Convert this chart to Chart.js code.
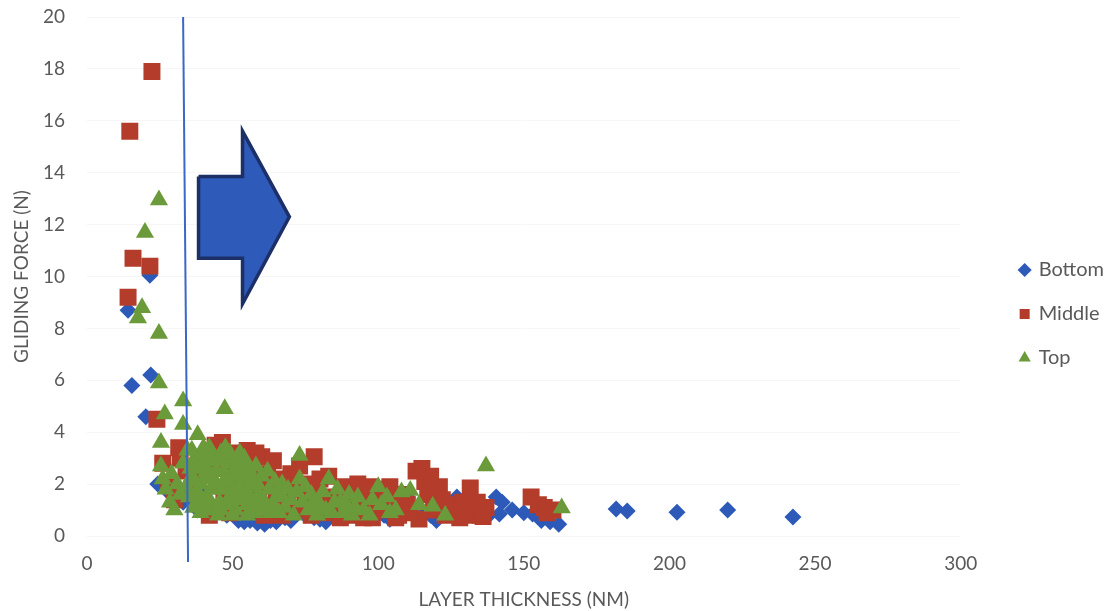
<!DOCTYPE html>
<html>
<head>
<meta charset="utf-8">
<script src="https://cdn.jsdelivr.net/npm/chart.js@4.4.1/dist/chart.umd.min.js"></script>
<style>
  html, body { margin: 0; padding: 0; background: #fff; }
  #wrap { width: 1114px; height: 611px; position: relative; }
</style>
</head>
<body>
<div id="wrap"><canvas id="chart"></canvas></div>
<script>
var seriesNames = ['Bottom', 'Middle', 'Top'];

var bottom = [
  [14.1, 8.7], [21.6, 10.05], [15.4, 5.8], [21.9, 6.2], [20.2, 4.6], [24.3, 2.0], [27.4, 1.75], [30, 1.5], [33, 1.3],
  [36, 1.4], [38, 1.0], [40, 1.6], [42, 1.1], [44, 0.9], [46, 1.3], [48, 0.8], [50, 1.2], [52, 0.6], [54, 0.55],
  [56, 0.6], [58.5, 0.5], [61, 0.45], [63, 0.6], [65, 0.55], [68, 0.7], [70, 0.6], [72, 0.9], [75, 0.8], [78, 0.7],
  [80, 0.65], [82, 0.55], [84, 0.9], [86, 1.1], [88, 0.7], [90, 0.8], [92, 1.2], [94.6, 2.0], [96, 0.9], [98, 0.75],
  [100, 1.0], [102, 0.8], [104, 0.65], [106, 1.2], [108, 0.7], [110, 1.5], [112, 0.9], [115, 0.75], [118, 0.8],
  [120, 0.6], [124, 1.0], [127, 1.5], [130, 1.2], [133, 0.9], [136, 1.1], [138, 0.8], [140.5, 1.5], [142.6, 1.3],
  [141.6, 0.85], [146, 1.0], [150, 0.9], [153, 0.85], [156, 0.6], [159, 0.55], [162, 0.45],
  [181.7, 1.04], [185.5, 0.96], [202.6, 0.92], [220, 1.0], [242.4, 0.73]
];

var middle = [
  [14.1, 9.2], [14.7, 15.6], [15.8, 10.7], [21.6, 10.4], [22.3, 17.9], [24, 4.5], [26, 2.8], [28, 2.0], [30, 1.4],
  [31.5, 3.4], [32, 3.0], [34, 2.5], [36, 1.8], [38, 2.2], [40, 1.3], [42, 0.8], [44, 3.5], [46.5, 3.6], [47, 1.6],
  [49, 0.9], [51, 2.0], [53.5, 2.6], [55, 3.3], [57, 1.2], [60, 3.05], [62, 2.4], [63, 0.9], [65, 1.6], [68, 1.2],
  [70, 2.4], [72, 1.8], [74, 1.0], [76, 2.0], [78, 3.05], [80, 2.2], [82, 1.5], [85, 1.0], [88, 1.9], [90, 1.3],
  [92, 0.8], [94, 1.6], [97, 1.9], [99, 1.2], [101, 1.8], [103, 1.0], [105, 1.4], [107, 0.8], [110, 1.2], [113, 2.5],
  [115, 2.6], [116, 2.1], [117, 1.6], [119, 1.0], [114, 0.65], [121, 1.9], [122, 1.4], [125, 0.9], [128, 0.7],
  [131.6, 1.85], [132, 1.0], [135, 0.8], [137, 1.1], [152.5, 1.5], [157, 1.1], [160, 1.0],
  [43, 1.0], [45, 2.8], [48, 2.6], [50, 3.2], [52, 1.1], [56, 2.6], [58, 3.2], [59, 1.8], [61, 0.8], [64, 2.9],
  [66, 2.2], [67, 0.8], [69, 1.5], [71, 1.0], [73, 2.7], [75, 1.4], [77, 0.8], [79, 1.8], [81, 0.9], [83, 2.3],
  [86, 1.4], [87, 0.7], [93, 2.0], [95, 0.7], [96, 1.4], [98, 0.7], [100, 1.5], [104, 1.9], [106, 0.7], [109, 1.6],
  [111, 0.9], [118, 2.3], [120, 1.3], [123, 0.8], [126, 1.2], [129, 1.3], [130, 0.8], [134, 1.3], [136, 0.75],
  [155, 1.2], [158, 0.9]
];

var top3 = [
  [17.5, 8.4], [18.9, 8.8], [19.9, 11.7], [24.7, 12.95], [24.7, 7.8], [24.7, 5.9], [26.7, 4.7], [25.4, 3.6],
  [25.4, 2.7], [26, 2.2], [27, 1.8], [28.5, 1.3], [29, 2.4], [31, 2.0], [33, 5.2], [33, 4.3], [33, 2.8], [34, 1.9],
  [35, 1.5], [36, 2.3], [37, 3.0], [38, 3.9], [38.5, 1.2], [39, 2.0], [40, 2.8], [41, 1.5], [42, 3.4], [43, 2.3],
  [44, 1.0], [45, 1.8], [46, 3.2], [47.3, 4.9], [47, 2.5], [48, 1.3], [49, 2.0], [50, 2.8], [51, 1.0], [52.5, 3.2],
  [53, 1.7], [54, 2.4], [55, 1.2], [56, 1.9], [58, 1.0], [59, 1.6], [61, 1.3], [62, 2.5], [63, 0.9], [65, 1.5],
  [67, 2.0], [68, 1.1], [70, 1.4], [71, 0.8], [73, 3.1], [73, 2.2], [74, 1.3], [76, 1.0], [77, 1.6], [79, 0.8],
  [80, 1.2], [83, 2.2], [84, 0.9], [86, 1.8], [87, 1.3], [89, 1.2], [91, 0.8], [93, 1.5], [95, 1.0], [97, 0.8],
  [100, 1.9], [101, 1.2], [104, 0.9], [108, 1.7], [111, 1.75], [114, 1.2], [118.7, 1.15], [123, 0.8],
  [137, 2.7], [163, 1.08],
  [30, 1.0], [32, 1.6], [34.5, 3.3], [35.5, 2.6], [36.5, 1.1], [37.5, 1.7], [39.5, 3.2], [40.5, 2.2], [41.5, 1.0],
  [42.5, 1.8], [43.5, 2.9], [44.5, 2.5], [45.5, 1.3], [46.5, 2.0], [47.5, 3.4], [48.5, 2.9], [49.5, 1.6], [50.5, 2.3],
  [51.5, 3.0], [52, 1.4], [53.5, 2.8], [54.5, 1.9], [55.5, 2.6], [56.5, 1.4], [57, 2.2], [57.5, 0.9], [58.5, 2.0],
  [60, 2.3], [60.5, 1.0], [62.5, 1.8], [64, 1.2], [64.5, 2.1], [66, 0.9], [66.5, 1.6], [69, 1.8], [72, 1.7],
  [75, 1.9], [78, 1.3], [81, 1.7], [82, 1.0], [85, 1.3], [88, 0.9], [90, 1.6], [92, 1.1], [98, 1.4], [103, 1.5],
  [106, 1.0],
  [38, 2.6], [39, 1.5], [40, 3.4], [41, 2.5], [42, 1.4], [43, 3.1], [44, 2.0], [45, 3.0], [46, 1.0], [47, 1.8],
  [48, 2.2], [49, 3.2], [50, 1.2], [51, 2.6], [52, 1.9], [53, 2.3], [54, 3.0], [55, 1.6], [56, 2.3], [57, 1.2],
  [58, 2.7], [59, 1.3], [37, 2.1], [36, 3.3], [39, 0.9], [45, 0.8], [50, 0.8], [55, 0.8]
];

// marker line at ~34 nm and the arrow shape, in data units
var cutoffLine = [[33, 20], [34.7, -1]];
var arrowShape = [[38.3, 13.85], [53.4, 13.85], [53.4, 15.6], [69.5, 12.3], [53.4, 8.95], [53.4, 10.7], [38.3, 10.7], [38.3, 13.85]];

function toPoints(arr) {
  return arr.map(function (p) { return { x: p[0], y: p[1] }; });
}

var gray = '#595959';
var fontFamily = 'Lato, "Open Sans", sans-serif';

var chart = new Chart(document.getElementById('chart').getContext('2d'), {
  type: 'scatter',
  data: {
    datasets: [{
      label: seriesNames[0],
      data: toPoints(bottom),
      pointStyle: 'rectRot',
      pointRadius: 8.5,
      pointHoverRadius: 8.5,
      backgroundColor: '#2D5AB8',
      borderColor: '#2D5AB8',
      borderWidth: 0,
      order: 3
    }, {
      label: seriesNames[1],
      data: toPoints(middle),
      pointStyle: 'rect',
      pointRadius: 12,
      pointHoverRadius: 12,
      backgroundColor: '#B33C2B',
      borderColor: '#B33C2B',
      borderWidth: 0,
      order: 2
    }, {
      label: seriesNames[2],
      data: toPoints(top3),
      pointStyle: 'triangle',
      pointRadius: 10.5,
      pointHoverRadius: 10.5,
      backgroundColor: '#6A9A3A',
      borderColor: '#6A9A3A',
      borderWidth: 0,
      order: 1
    }, {
      label: 'cutoff',
      type: 'line',
      data: toPoints(cutoffLine),
      borderColor: '#3A68C8',
      borderWidth: 2,
      pointRadius: 0,
      fill: false,
      clip: false,
      order: 0
    }, {
      label: 'arrow',
      type: 'line',
      data: toPoints(arrowShape),
      borderColor: '#1C2F66',
      backgroundColor: '#2E5BBA',
      borderWidth: 3.5,
      borderJoinStyle: 'miter',
      pointRadius: 0,
      tension: 0,
      fill: 'shape',
      order: 0
    }]
  },
  options: {
    responsive: true,
    maintainAspectRatio: false,
    animation: false,
    layout: { padding: { top: 17, right: 0, left: 0, bottom: 0 } },
    plugins: {
      tooltip: { enabled: false },
      legend: {
        position: 'right',
        labels: {
          usePointStyle: true,
          boxWidth: 8,
          boxHeight: 10,
          padding: 24,
          color: gray,
          font: { family: fontFamily, size: 20 },
          filter: function (item) { return seriesNames.indexOf(item.text) >= 0; },
          sort: function (a, b) { return a.datasetIndex - b.datasetIndex; }
        }
      }
    },
    scales: {
      x: {
        type: 'linear',
        min: 0,
        max: 300,
        border: { display: false },
        grid: { display: false, drawTicks: false },
        ticks: { stepSize: 50, padding: 16, color: gray, font: { family: fontFamily, size: 19 } },
        title: { display: true, text: 'LAYER THICKNESS (NM)', color: gray, font: { family: fontFamily, size: 19 }, padding: { top: 4, bottom: 0 } },
        afterFit: function (scale) {
          scale.height = 75;
          scale.paddingLeft = 0;
          scale.paddingRight = 0;
        }
      },
      y: {
        min: 0,
        max: 20,
        border: { display: false },
        grid: { color: 'rgba(0,0,0,0.035)', drawTicks: false },
        ticks: { stepSize: 2, padding: 22, color: gray, font: { family: fontFamily, size: 19 } },
        title: { display: true, text: 'GLIDING FORCE (N)', color: gray, font: { family: fontFamily, size: 19 }, padding: { top: 10, bottom: 4 } },
        afterFit: function (scale) {
          scale.width = 87;
          scale.paddingTop = 0;
          scale.paddingBottom = 0;
        }
      },
      gap: {
        type: 'linear',
        position: 'right',
        display: true,
        border: { display: false },
        grid: { display: false, drawTicks: false },
        ticks: { display: false },
        afterFit: function (scale) { scale.width = 36; }
      }
    }
  }
});
</script>
</body>
</html>
